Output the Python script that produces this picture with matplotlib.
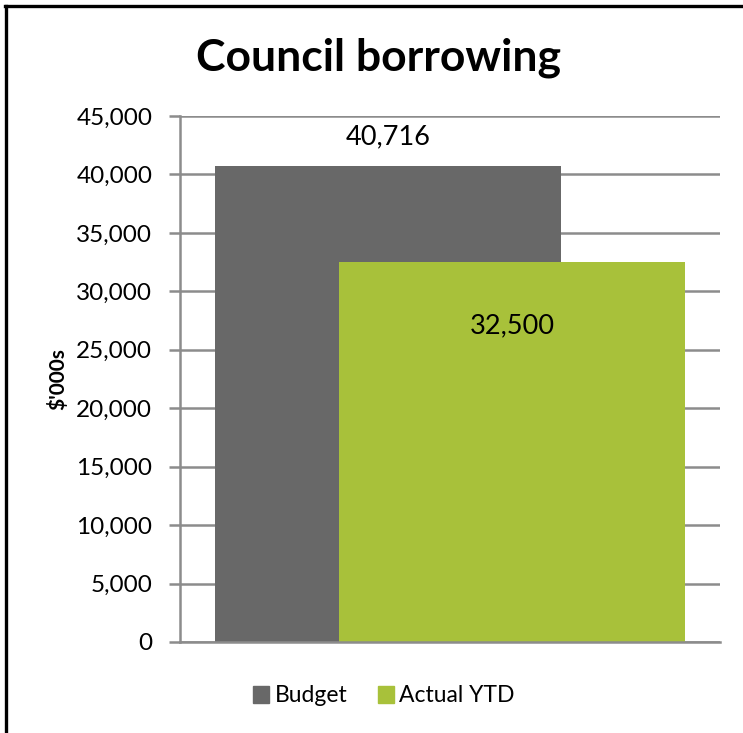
import matplotlib
matplotlib.use("Agg")
import matplotlib.pyplot as plt
from matplotlib.lines import Line2D
from matplotlib.patches import Patch

plt.rcParams.update({
    'font.family': ['Lato', 'DejaVu Sans'],
    'font.size': 15,
})

series = ["Budget", "Actual YTD"]
values = [40716, 32500]
labels = ["40,716", "32,500"]
colors = ["#686868", "#A8C13A"]
yticks = [0, 5000, 10000, 15000, 20000, 25000, 30000, 35000, 40000, 45000]
ytick_labels = ["0", "5,000", "10,000", "15,000", "20,000", "25,000",
                "30,000", "35,000", "40,000", "45,000"]

W, H = 743, 733
fig = plt.figure(figsize=(W / 100, H / 100), dpi=100)
ax = fig.add_axes([180 / W, 1 - 642 / H, 540 / W, 526 / H])

# overlapping clustered bars, single category
bar_w = 0.641
offsets = [-0.1148, 0.1148]
grid_col = "#8c8c8c"
for i, (name, v) in enumerate(zip(series, values)):
    ax.bar(offsets[i], v, width=bar_w, color=colors[i], zorder=2 + i, label=name)

# value labels: budget above its bar, actual inside its bar
ax.annotate(labels[0], (offsets[0], values[0]), xytext=(0, 12),
            textcoords="offset points", ha="center", va="bottom", fontsize=19.5,
            zorder=5)
ax.annotate(labels[1], (offsets[1], values[1]), xytext=(0, -37),
            textcoords="offset points", ha="center", va="top", fontsize=19.5,
            zorder=5)

ax.set_xlim(-0.5, 0.5)
ax.set_ylim(0, 45000)
ax.set_yticks(yticks)
ax.set_yticklabels(ytick_labels)
ax.set_xticks([])
ax.yaxis.grid(True, color=grid_col, linewidth=1.8, zorder=0)
ax.set_axisbelow(True)
for s in ["top", "right"]:
    ax.spines[s].set_visible(False)
for s in ["left", "bottom"]:
    ax.spines[s].set_color(grid_col)
    ax.spines[s].set_linewidth(1.8)
ax.spines["bottom"].set_zorder(6)
ax.tick_params(axis="y", length=8, width=1.8, color=grid_col, pad=12,
               labelsize=17.5)
ax.set_ylabel("$'000s", fontweight="bold", fontsize=15, labelpad=6)

fig.text(378 / W, 1 - 58 / H, "Council borrowing", ha="center", va="center",
         fontsize=32, fontweight="bold")

handles = [Patch(color=c, label=n) for c, n in zip(colors, series)]
fig.legend(handles=handles, loc="center", bbox_to_anchor=(384 / W, 1 - 696 / H),
           ncol=2, frameon=False, fontsize=16.5, handlelength=0.7,
           handleheight=0.7, handletextpad=0.25, columnspacing=1.3)

# frame lines on the left and top edges
fig.add_artist(Line2D([6.5 / W, 6.5 / W], [0, 1 - 5.5 / H], color="black",
                      linewidth=2.4, transform=fig.transFigure))
fig.add_artist(Line2D([5.3 / W, 1], [1 - 5.5 / H, 1 - 5.5 / H], color="black",
                      linewidth=2.4, transform=fig.transFigure))

fig.savefig("out.png", dpi=100)
